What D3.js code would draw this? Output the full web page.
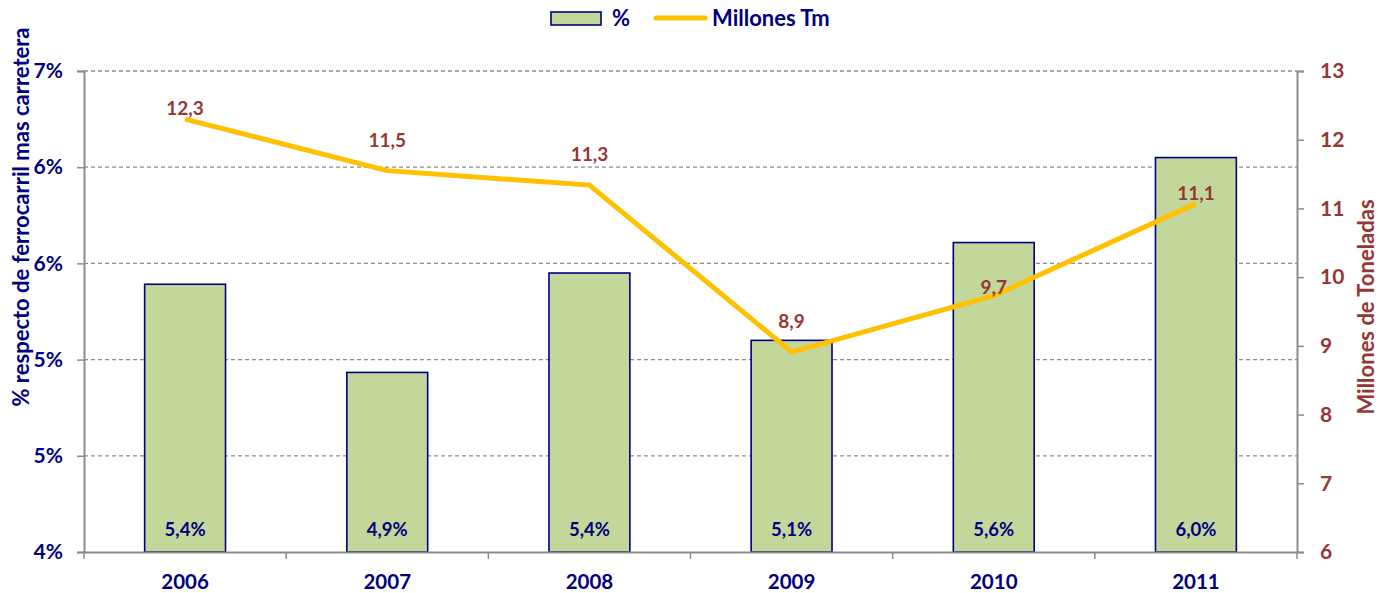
<!DOCTYPE html>
<html>
<head>
<meta charset="utf-8">
<script src="https://cdn.jsdelivr.net/npm/d3@7"></script>
<style>
  body { margin: 0; background: #fff; }
  text { font-family: Lato, "Open Sans", sans-serif; font-weight: bold; }
</style>
</head>
<body>
<div id="chart"></div>
<script>
// data
const years = ['2006', '2007', '2008', '2009', '2010', '2011'];
const pctValues = [5.67, 5.12, 5.74, 5.32, 5.93, 6.46];
const pctLabels = ['5,4%', '4,9%', '5,4%', '5,1%', '5,6%', '6,0%'];
const tonValues = [12.3, 11.55, 11.34, 8.91, 9.73, 11.07];
const tonLabels = ['12,3', '11,5', '11,3', '8,9', '9,7', '11,1'];
const leftTicks = [4.0, 4.6, 5.2, 5.8, 6.4, 7.0];
const rightTicks = [6, 7, 8, 9, 10, 11, 12, 13];

const W = 1379, H = 593;
const m = { left: 84, right: 82, top: 71, bottom: 41 };
const navy = '#000080', brown = '#953735';

const svg = d3.select('#chart').append('svg')
    .attr('width', W)
    .attr('height', H);

const x = d3.scaleBand().domain(years).range([m.left, W - m.right])
    .paddingInner(0.6).paddingOuter(0.3);
const yL = d3.scaleLinear().domain([4, 7]).range([H - m.bottom, m.top]);
const yR = d3.scaleLinear().domain([6, 13]).range([H - m.bottom, m.top]);

// gridlines
svg.append('g')
    .selectAll('line')
    .data(leftTicks.slice(1))
    .join('line')
      .attr('x1', m.left).attr('x2', W - m.right)
      .attr('y1', d => yL(d)).attr('y2', d => yL(d))
      .attr('stroke', '#8c8c8c')
      .attr('stroke-width', 1.3)
      .attr('stroke-dasharray', '4,3');

// bars
svg.append('g')
    .selectAll('rect')
    .data(pctValues)
    .join('rect')
      .attr('x', (d, i) => x(years[i]))
      .attr('y', d => yL(d))
      .attr('width', x.bandwidth())
      .attr('height', d => yL(4) - yL(d))
      .attr('fill', '#c4d79b')
      .attr('stroke', navy)
      .attr('stroke-width', 1.6);

svg.append('g')
    .selectAll('text')
    .data(pctLabels)
    .join('text')
      .attr('x', (d, i) => x(years[i]) + x.bandwidth() / 2)
      .attr('y', H - m.bottom - 16)
      .attr('text-anchor', 'middle')
      .attr('fill', navy)
      .attr('font-size', 18.5)
      .text(d => d);

// axes
const axisCol = '#8c8c8c';
const leftAxis = svg.append('g')
    .attr('transform', `translate(${m.left},0)`)
    .call(d3.axisLeft(yL).tickValues(leftTicks).tickSize(7).tickPadding(14)
        .tickFormat(d => Math.round(d) + '%'));
leftAxis.selectAll('text').attr('fill', navy).attr('font-size', 21);

const rightAxis = svg.append('g')
    .attr('transform', `translate(${W - m.right},0)`)
    .call(d3.axisRight(yR).tickValues(rightTicks).tickSize(7).tickPadding(16)
        .tickFormat(d3.format('d')));
rightAxis.selectAll('text').attr('fill', brown).attr('font-size', 21);

const xEdges = d3.scaleLinear().domain([0, years.length]).range([m.left, W - m.right]);
const bottomAxis = svg.append('g')
    .attr('transform', `translate(0,${H - m.bottom})`)
    .call(d3.axisBottom(x).tickSize(0).tickPadding(22));
bottomAxis.selectAll('text').attr('fill', navy).attr('font-size', 20.5);
bottomAxis.selectAll('.tick line').remove();
bottomAxis.append('g')
    .selectAll('line')
    .data(d3.range(years.length + 1))
    .join('line')
      .attr('x1', d => xEdges(d)).attr('x2', d => xEdges(d))
      .attr('y1', 0).attr('y2', 7)
      .attr('stroke', axisCol)
      .attr('stroke-width', 1.5);

[leftAxis, rightAxis, bottomAxis].forEach(g => {
    g.select('.domain').attr('stroke', axisCol).attr('stroke-width', 2);
    g.selectAll('.tick line').attr('stroke', axisCol).attr('stroke-width', 1.5);
});

// line
const line = d3.line()
    .x((d, i) => x(years[i]) + x.bandwidth() / 2)
    .y(d => yR(d));

svg.append('path')
    .datum(tonValues)
    .attr('d', line)
    .attr('fill', 'none')
    .attr('stroke', '#ffc000')
    .attr('stroke-width', 5);

// label offsets above each point (as Excel placed them)
const tonLabelDy = [-4, -24, -24, -24, -2, -4];
svg.append('g')
    .selectAll('text')
    .data(tonLabels)
    .join('text')
      .attr('x', (d, i) => x(years[i]) + x.bandwidth() / 2)
      .attr('y', (d, i) => yR(tonValues[i]) + tonLabelDy[i])
      .attr('text-anchor', 'middle')
      .attr('fill', brown)
      .attr('font-size', 19)
      .text(d => d);

// axis titles
svg.append('text')
    .attr('transform', 'translate(29,217) rotate(-90)')
    .attr('text-anchor', 'middle')
    .attr('fill', navy)
    .attr('font-size', 22)
    .text('% respecto de ferrocarril mas carretera');

svg.append('text')
    .attr('transform', 'translate(1374,307) rotate(-90)')
    .attr('text-anchor', 'middle')
    .attr('fill', brown)
    .attr('font-size', 22)
    .text('Millones de Toneladas');

// legend
const lg = svg.append('g');
lg.append('rect')
    .attr('x', 551).attr('y', 12).attr('width', 50).attr('height', 13)
    .attr('fill', '#c4d79b').attr('stroke', navy).attr('stroke-width', 1.6);
lg.append('text')
    .attr('x', 612).attr('y', 26)
    .attr('fill', navy).attr('font-size', 22)
    .text('%');
lg.append('line')
    .attr('x1', 656).attr('x2', 705).attr('y1', 18).attr('y2', 18)
    .attr('stroke', '#ffc000').attr('stroke-width', 5).attr('stroke-linecap', 'round');
lg.append('text')
    .attr('x', 712).attr('y', 26)
    .attr('fill', navy).attr('font-size', 22)
    .text('Millones Tm');
</script>
</body>
</html>
